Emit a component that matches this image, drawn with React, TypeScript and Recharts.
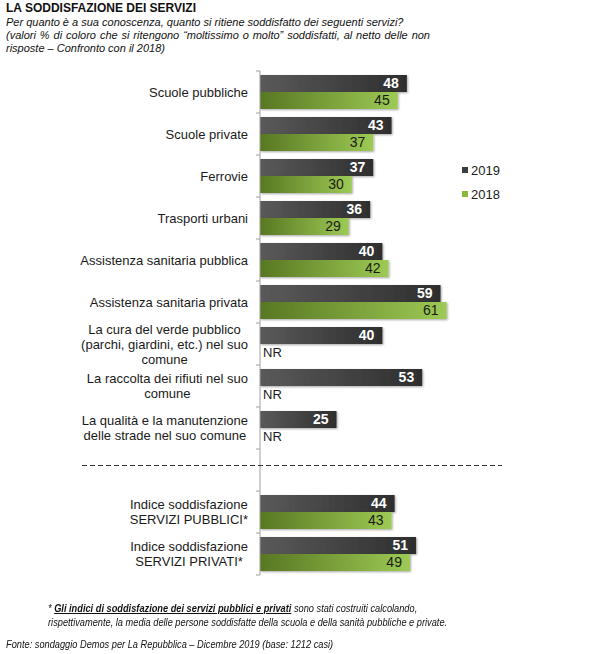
import React from 'react';
import { BarChart, Bar, XAxis, YAxis, LabelList } from 'recharts';

const categories = [
  'Scuole pubbliche',
  'Scuole private',
  'Ferrovie',
  'Trasporti urbani',
  'Assistenza sanitaria pubblica',
  'Assistenza sanitaria privata',
  'La cura del verde pubblico\n(parchi, giardini, etc.) nel suo\ncomune',
  'La raccolta dei rifiuti nel suo\ncomune',
  'La qualità e la manutenzione\ndelle strade nel suo comune',
  ' ',
  'Indice soddisfazione\nSERVIZI PUBBLICI*',
  'Indice soddisfazione\nSERVIZI PRIVATI*',
];
const values2019 = [48, 43, 37, 36, 40, 59, 40, 53, 25, null, 44, 51];
const values2018 = [45, 37, 30, 29, 42, 61, null, null, null, null, 43, 49];
const seriesNames = ['2019', '2018'];
const seriesColors = ['#3c3c3c', '#8db83f'];
const missingLabel = 'NR';

const data = categories.map((name, i) => ({
  name,
  y2019: values2019[i],
  y2018: values2018[i],
  // rows answered in 2019 but not asked in 2018
  nr: values2019[i] != null && values2018[i] == null ? missingLabel : '',
}));

const FONT = '"Liberation Sans", Arial, sans-serif';
const TOP = 71;
const PLOT_H = 504;
const BAND = PLOT_H / categories.length;

let ctx: CanvasRenderingContext2D | null = null;
const measure = (t: string) => {
  if (!ctx) ctx = document.createElement('canvas').getContext('2d');
  if (!ctx) return t.length * 6.5;
  ctx.font = '13px "Liberation Sans"';
  return ctx.measureText(t).width;
};

const CategoryTick = (props: any) => {
  const { x, y, payload, index } = props;
  const lines = String(payload.value).split('\n');
  const multi = lines.length > 1;
  const w = Math.max(...lines.map(measure));
  const tx = multi ? x - w / 2 : x;
  const lh = 15;
  const y0 = y - ((lines.length - 1) * lh) / 2;
  return (
    <g>
      <line x1={x + 8} x2={x + 12} y1={y - BAND / 2} y2={y - BAND / 2} stroke="#a0a0a0" />
      {index === categories.length - 1 && (
        <line x1={x + 8} x2={x + 12} y1={y + BAND / 2} y2={y + BAND / 2} stroke="#a0a0a0" />
      )}
      <text textAnchor={multi ? 'middle' : 'end'} fontSize={13} fill="#1a1a1a" fontFamily={FONT}>
        {lines.map((l, i) => (
          <tspan key={i} x={tx} y={y0 + i * lh} dy="0.35em">
            {l}
          </tspan>
        ))}
      </text>
    </g>
  );
};

const Label2018 = (props: any) => {
  const { x, y, width, height, value } = props;
  if (value == null) return null;
  return (
    <text x={x + width - 8} y={y + height / 2} dy="0.35em" textAnchor="end" fontSize={14} fill="#1a1a1a" fontFamily={FONT}>
      {value}
    </text>
  );
};

const Label2019 = (props: any) => {
  const { x, y, width, height, value } = props;
  if (value == null) return null;
  return (
    <text x={x + width - 8} y={y + height / 2} dy="0.35em" textAnchor="end" fontSize={14} fontWeight="bold" fill="#ffffff" fontFamily={FONT}>
      {value}
    </text>
  );
};

// "NR" goes in the empty 2018 slot right under the 2019 bar
const MissingLabel = (props: any) => {
  const { x, y, height, value } = props;
  if (!value) return null;
  return (
    <text x={x + 3} y={y + height * 1.5} dy="0.35em" fontSize={13} fill="#1a1a1a" fontFamily={FONT}>
      {value}
    </text>
  );
};

const App = () => {
  const small = {
    position: 'absolute' as const,
    fontSize: 11,
    fontStyle: 'italic',
    lineHeight: '14px',
    whiteSpace: 'nowrap' as const,
    transform: 'scaleX(0.84)',
    transformOrigin: 'left top',
    color: '#111',
  };
  return (
    <div style={{ position: 'absolute', left: 0, top: 0, width: 600, height: 654, background: '#fff', fontFamily: FONT, color: '#111' }}>
      <div style={{ position: 'absolute', left: 6, top: 1, fontSize: 12, fontWeight: 'bold', lineHeight: '14px' }}>
        LA SODDISFAZIONE DEI SERVIZI
      </div>
      <div style={{ position: 'absolute', left: 6, top: 16, fontSize: 11, fontStyle: 'italic', lineHeight: '13px', width: 424 }}>
        <div style={{ whiteSpace: 'nowrap' }}>Per quanto è a sua conoscenza, quanto si ritiene soddisfatto dei seguenti servizi?</div>
        <div style={{ whiteSpace: 'nowrap', textAlign: 'justify', textAlignLast: 'justify' }}>
          (valori % di coloro che si ritengono “moltissimo o molto” soddisfatti, al netto delle non
        </div>
        <div>risposte – Confronto con il 2018)</div>
      </div>

      <div style={{ position: 'absolute', left: 0, top: 0 }}>
        <BarChart
          width={600}
          height={654}
          layout="vertical"
          data={data}
          margin={{ top: TOP, right: 34, bottom: 654 - TOP - PLOT_H, left: 0 }}
          barCategoryGap={4}
          barGap={0}
        >
          <defs>
            <linearGradient id="g2019" x1="0" y1="0" x2="1" y2="0">
              <stop offset="0%" stopColor="#5a5a5a" />
              <stop offset="100%" stopColor="#2e2e2e" />
            </linearGradient>
            <linearGradient id="g2018" x1="0" y1="0" x2="1" y2="0">
              <stop offset="0%" stopColor="#587722" />
              <stop offset="100%" stopColor="#9dca54" />
            </linearGradient>
            <filter id="shadow" x="-5%" y="-20%" width="110%" height="150%">
              <feDropShadow dx="1" dy="1" stdDeviation="0.8" floodColor="#000" floodOpacity="0.35" />
            </filter>
          </defs>
          <XAxis type="number" domain={[0, 100]} hide />
          <YAxis
            type="category"
            dataKey="name"
            width={260}
            interval={0}
            tickLine={false}
            tickSize={0}
            tickMargin={12}
            axisLine={{ stroke: '#a0a0a0' }}
            tick={<CategoryTick />}
          />
          <Bar dataKey="y2019" name={seriesNames[0]} fill="url(#g2019)" filter="url(#shadow)" isAnimationActive={false}>
            <LabelList dataKey="y2019" content={<Label2019 />} />
            <LabelList dataKey="nr" content={<MissingLabel />} />
          </Bar>
          <Bar dataKey="y2018" name={seriesNames[1]} fill="url(#g2018)" filter="url(#shadow)" isAnimationActive={false}>
            <LabelList dataKey="y2018" content={<Label2018 />} />
          </Bar>
        </BarChart>
      </div>

      <div style={{ position: 'absolute', left: 462, top: 158, fontSize: 13, color: '#1a1a1a' }}>
        {seriesNames.map((s, i) => (
          <div key={s} style={{ display: 'flex', alignItems: 'center', height: 24 }}>
            <span style={{ width: 6, height: 6, background: seriesColors[i], marginRight: 3 }} />
            {s}
          </div>
        ))}
      </div>

      <svg style={{ position: 'absolute', left: 0, top: 0 }} width={600} height={654} pointerEvents="none">
        <line x1={82} x2={502} y1={465.5} y2={465.5} stroke="#333" strokeDasharray="5 3" />
      </svg>

      <div style={{ ...small, left: 48, top: 601 }}>
        <div>
          * <b style={{ textDecoration: 'underline' }}>Gli indici di soddisfazione dei servizi pubblici e privati</b> sono stati costruiti calcolando,
        </div>
        <div>rispettivamente, la media delle persone soddisfatte della scuola e della sanità pubbliche e private.</div>
      </div>
      <div style={{ ...small, left: 6, top: 637 }}>
        Fonte: sondaggio Demos per La Repubblica – Dicembre 2019 (base: 1212 casi)
      </div>
    </div>
  );
};

export default App;
